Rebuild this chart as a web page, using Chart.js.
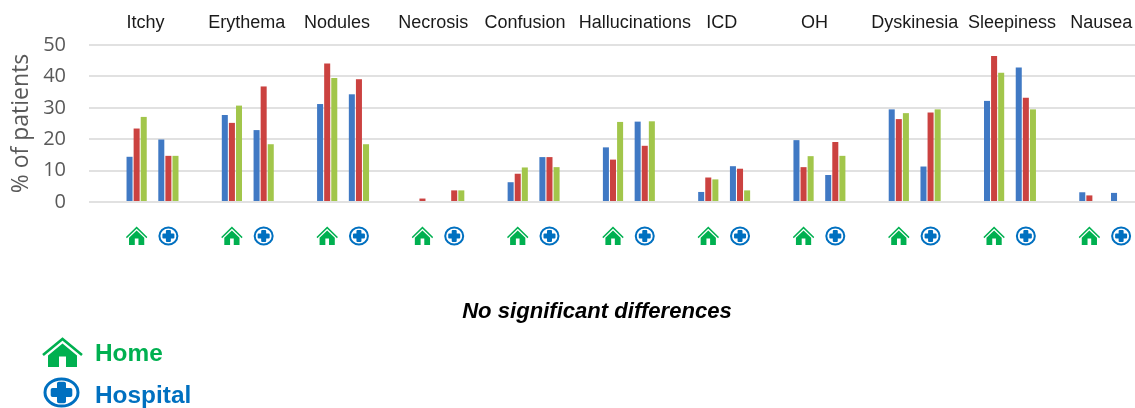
<!DOCTYPE html>
<html lang="en">
<head>
  <meta charset="UTF-8">
  <title>% of patients, home vs hospital</title>
  <script src="https://cdn.jsdelivr.net/npm/chart.js"></script>
  <style>
    html, body { margin: 0; background: #fff; overflow: hidden; }
    canvas { display: block; }
  </style>
</head>
<body>
  <!-- two px wider than the window: the last slot runs off the edge in the original too -->
  <canvas id="grafico" width="1137" height="408"></canvas>

  <script>
    const groups = ['Itchy', 'Erythema', 'Nodules', 'Necrosis', 'Confusion', 'Hallucinations', 'ICD', 'OH', 'Dyskinesia', 'Sleepiness', 'Nausea'];

    // one value per group, home then hospital
    const blueHome = [14.4, 27.7, 31.2, 0, 6.3, 17.4, 3.2, 19.7, 29.5, 32.2, 3.1];
    const redHome = [23.4, 25.2, 44.1, 1.1, 9, 13.5, 7.8, 11.1, 26.4, 46.5, 2.1];
    const greenHome = [27.1, 30.7, 39.5, 0, 11, 25.5, 7.2, 14.6, 28.3, 41.2, 0];
    const blueHospital = [19.9, 22.9, 34.3, 0, 14.3, 25.6, 11.4, 8.6, 11.3, 42.8, 2.9];
    const redHospital = [14.7, 36.8, 39.1, 3.7, 14.3, 17.9, 10.6, 19.1, 28.5, 33.2, 0];
    const greenHospital = [14.7, 18.4, 18.4, 3.7, 11.1, 25.7, 3.7, 14.7, 29.5, 29.5, 0];

    const yTicks = [0, 10, 20, 30, 40, 50];

    // the group titles do not sit exactly over their bars in the original
    const titleNudge = [-7, -1, -6, -5, -8.5, 6, -2.5, -5, 0, 2, -4];

    const GREEN = '#00B050';
    const BLUE = '#0070C0';

    // slots: blank, then home / hospital / blank for every group
    const slots = [''];
    groups.forEach((g, i) => {
      slots.push(g + ' home', g + ' hospital');
      if (i < groups.length - 1) slots.push('');
    });

    function toSlots(home, hospital) {
      const out = [null];
      groups.forEach((g, i) => {
        out.push(home[i], hospital[i]);
        if (i < groups.length - 1) out.push(null);
      });
      return out;
    }

    function drawHouse(ctx, cx, top, w, h) {
      ctx.save();
      ctx.translate(cx - w / 2, top);
      ctx.scale(w / 40, h / 29);
      ctx.strokeStyle = GREEN;
      ctx.fillStyle = GREEN;
      ctx.lineWidth = 2.6;
      ctx.beginPath();
      ctx.moveTo(0.5, 17);
      ctx.lineTo(20, 1);
      ctx.lineTo(39.5, 17);
      ctx.stroke();
      ctx.beginPath();
      ctx.moveTo(20, 5.5);
      ctx.lineTo(34.5, 17.5);
      ctx.lineTo(34.5, 29);
      ctx.lineTo(23.5, 29);
      ctx.lineTo(23.5, 18.5);
      ctx.lineTo(16.5, 18.5);
      ctx.lineTo(16.5, 29);
      ctx.lineTo(5.5, 29);
      ctx.lineTo(5.5, 17.5);
      ctx.closePath();
      ctx.fill();
      ctx.restore();
    }

    function drawPlus(ctx, cx, cy, w, h, ring) {
      const arm = w * 0.6;
      const thick = w * 0.25;
      ctx.save();
      ctx.strokeStyle = BLUE;
      ctx.fillStyle = BLUE;
      ctx.lineWidth = ring;
      ctx.beginPath();
      ctx.ellipse(cx, cy, (w - ring) / 2, (h - ring) / 2, 0, 0, Math.PI * 2);
      ctx.stroke();
      ctx.beginPath();
      ctx.roundRect(cx - arm / 2, cy - thick / 2, arm, thick, thick * 0.2);
      ctx.roundRect(cx - thick / 2, cy - arm / 2, thick, arm, thick * 0.2);
      ctx.fill();
      ctx.restore();
    }

    const extras = {
      id: 'extras',
      afterDraw(chart) {
        const ctx = chart.ctx;
        const x = chart.scales.x;
        ctx.save();
        ctx.textBaseline = 'alphabetic';
        groups.forEach((g, i) => {
          const homeX = x.getPixelForValue(1 + i * 3);
          const hospX = x.getPixelForValue(2 + i * 3);
          ctx.font = '18px "Liberation Sans"';
          ctx.fillStyle = '#1a1a1a';
          ctx.textAlign = 'center';
          ctx.fillText(g, (homeX + hospX) / 2 + titleNudge[i], 28);
          drawHouse(ctx, homeX, 227, 21, 18);
          drawPlus(ctx, hospX, 236, 20, 19, 2);
        });

        ctx.fillStyle = '#000';
        ctx.font = 'italic bold 22.1px "Liberation Sans"';
        ctx.fillText('No significant differences', 597, 318);

        ctx.textAlign = 'left';
        ctx.font = 'bold 24.4px "Liberation Sans"';
        ctx.fillStyle = GREEN;
        ctx.fillText('Home', 95, 361);
        ctx.fillStyle = BLUE;
        ctx.fillText('Hospital', 95, 403);
        drawHouse(ctx, 62.5, 338, 40, 29);
        drawPlus(ctx, 61.5, 392.5, 36, 30, 3);
        ctx.restore();
      }
    };

    const grafico = new Chart(document.getElementById('grafico').getContext('2d'), {
      type: 'bar',
      data: {
        labels: slots,
        datasets: [
          { label: 'Blue', data: toSlots(blueHome, blueHospital), backgroundColor: '#4079C4' },
          { label: 'Red', data: toSlots(redHome, redHospital), backgroundColor: '#CB4240' },
          { label: 'Green', data: toSlots(greenHome, greenHospital), backgroundColor: '#A2C64B' }
        ]
      },
      options: {
        responsive: false,
        animation: false,
        layout: { padding: { top: 45, bottom: 206, left: 0, right: 0 } },
        datasets: { bar: { categoryPercentage: 0.67, barPercentage: 0.85 } },
        plugins: { legend: { display: false }, tooltip: { enabled: false } },
        scales: {
          x: { display: false },
          y: {
            min: 0,
            max: 50,
            afterBuildTicks(axis) { axis.ticks = yTicks.map(v => ({ value: v })); },
            afterFit(axis) { axis.width = 89; },
            border: { display: false },
            grid: { color: '#E1E1E1', lineWidth: 2, drawTicks: false },
            ticks: { color: '#595959', padding: 23, font: { family: '"Open Sans"', size: 20 } },
            title: {
              display: true,
              text: '% of patients',
              color: '#595959',
              padding: { top: 8, bottom: 0 },
              font: { family: '"Open Sans"', size: 23 }
            }
          }
        }
      },
      plugins: [extras]
    });
  </script>
</body>
</html>
